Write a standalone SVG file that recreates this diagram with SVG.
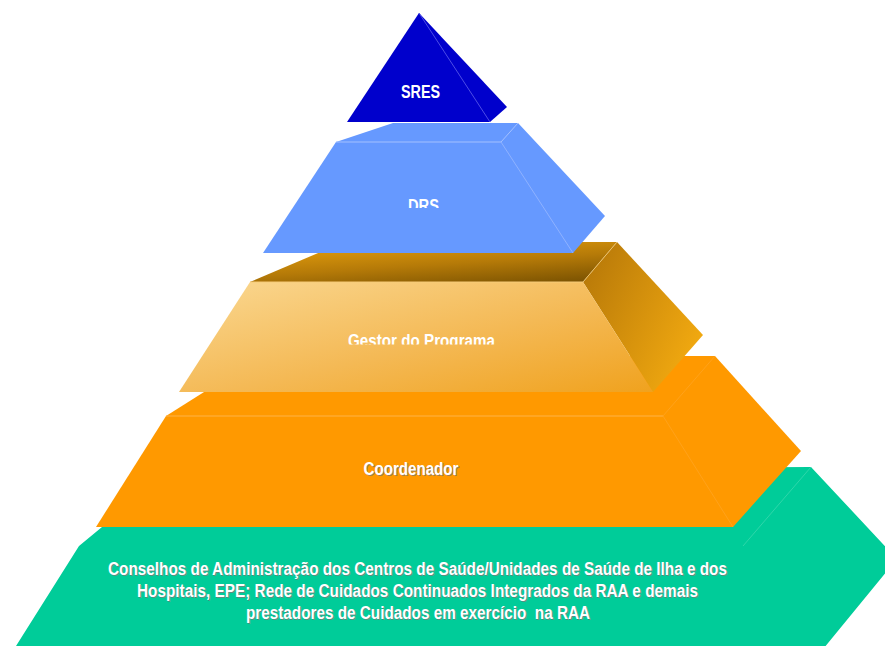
<svg xmlns="http://www.w3.org/2000/svg" width="885" height="646" viewBox="0 0 885 646">
  <defs>
    <linearGradient id="goldFront" x1="0" y1="0" x2="1" y2="1">
      <stop offset="0" stop-color="#FAD892"/>
      <stop offset="0.55" stop-color="#F4B955"/>
      <stop offset="1" stop-color="#F0A21E"/>
    </linearGradient>
    <linearGradient id="goldTop" x1="0.1" y1="0" x2="0.8" y2="1.2">
      <stop offset="0" stop-color="#EAA30E"/>
      <stop offset="0.5" stop-color="#B57A08"/>
      <stop offset="1" stop-color="#6E4A00"/>
    </linearGradient>
    <linearGradient id="goldSide" x1="0" y1="0" x2="1" y2="0.6">
      <stop offset="0" stop-color="#B37508"/>
      <stop offset="1" stop-color="#F0A810"/>
    </linearGradient>
    <clipPath id="clipDrs"><rect x="380" y="190" width="90" height="18"/></clipPath>
    <clipPath id="clipGestor"><rect x="330" y="325" width="190" height="19.5"/></clipPath>
    <style>
      .lbl { font-family: "Liberation Sans", Arial, sans-serif; font-weight: bold; font-size: 17.5px; fill: #FFFFFF; text-anchor: middle; }
      .shd { fill: #7A7A7A; fill-opacity: 0.75; }
      .edge { fill: none; stroke-width: 1; }
    </style>
  </defs>

  <rect width="885" height="646" fill="#FFFFFF"/>

  <!-- base tier: providers -->
  <g id="conselhos">
    <polygon points="16,646 79,546 102,527 150,469 811,467 897,559 810,665 0,665" fill="#00CC99"/>
    <line class="edge" x1="811" y1="467" x2="743" y2="546" stroke="#2ED6AA"/>
    <g>
      <text class="lbl shd" x="418.5" y="576" textLength="619" lengthAdjust="spacingAndGlyphs">Conselhos de Administração dos Centros de Saúde/Unidades de Saúde de Ilha e dos</text>
      <text class="lbl shd" x="418.5" y="598" textLength="561" lengthAdjust="spacingAndGlyphs">Hospitais, EPE; Rede de Cuidados Continuados Integrados da RAA e demais</text>
      <text class="lbl shd" x="419" y="620" textLength="344" lengthAdjust="spacingAndGlyphs" xml:space="preserve">prestadores de Cuidados em exercício  na RAA</text>
      <text class="lbl" x="417.5" y="575" textLength="619" lengthAdjust="spacingAndGlyphs">Conselhos de Administração dos Centros de Saúde/Unidades de Saúde de Ilha e dos</text>
      <text class="lbl" x="417.5" y="597" textLength="561" lengthAdjust="spacingAndGlyphs">Hospitais, EPE; Rede de Cuidados Continuados Integrados da RAA e demais</text>
      <text class="lbl" x="418" y="619" textLength="344" lengthAdjust="spacingAndGlyphs" xml:space="preserve">prestadores de Cuidados em exercício  na RAA</text>
    </g>
  </g>

  <!-- coordinator tier -->
  <g id="coordenador">
    <polygon points="96,527 166,416 261,356 715,356 801,451 733,527" fill="#FF9900"/>
    <line class="edge" x1="166" y1="416" x2="663" y2="416" stroke="#FFB347"/>
    <line class="edge" x1="715" y1="356" x2="663" y2="416" stroke="#FFA21A"/>
    <line class="edge" x1="663" y1="416" x2="733" y2="527" stroke="#FFA21A"/>
    <text class="lbl shd" x="412" y="476" textLength="95" lengthAdjust="spacingAndGlyphs">Coordenador</text>
    <text class="lbl" x="411" y="475" textLength="95" lengthAdjust="spacingAndGlyphs">Coordenador</text>
  </g>

  <!-- programme manager tier -->
  <g id="gestor">
    <polygon points="250,282 344,242 617,242 583,282" fill="url(#goldTop)"/>
    <polygon points="617,242 703,335 653,392 583,282" fill="url(#goldSide)"/>
    <polygon points="179,392 250,282 583,282 653,392" fill="url(#goldFront)"/>
    <line class="edge" x1="250" y1="282" x2="583" y2="282" stroke="#F6CB78"/>
    <line class="edge" x1="617" y1="242" x2="583" y2="282" stroke="#E8C070"/>
    <text class="lbl" x="421.5" y="346.5" textLength="147" lengthAdjust="spacingAndGlyphs" clip-path="url(#clipGestor)">Gestor do Programa</text>
  </g>

  <!-- DRS tier -->
  <g id="drs">
    <polygon points="263,253 336,142 393,123 518,123 605,216 573,253" fill="#6699FF"/>
    <line class="edge" x1="336" y1="142" x2="501" y2="142" stroke="#A3C0FF"/>
    <line class="edge" x1="501" y1="142" x2="518" y2="123" stroke="#A3C0FF"/>
    <line class="edge" x1="501" y1="142" x2="573" y2="253" stroke="#8FB2FF"/>
    <text class="lbl" x="423.5" y="211.5" textLength="31" lengthAdjust="spacingAndGlyphs" clip-path="url(#clipDrs)">DRS</text>
  </g>

  <!-- apex: SRES -->
  <g id="sres">
    <polygon points="347,122 419,13 507,107 490,122" fill="#0000CC"/>
    <line class="edge" x1="419" y1="13" x2="490" y2="122" stroke="#4D4DE6"/>
    <text class="lbl" x="420.5" y="97.5" textLength="39" lengthAdjust="spacingAndGlyphs">SRES</text>
  </g>
</svg>
